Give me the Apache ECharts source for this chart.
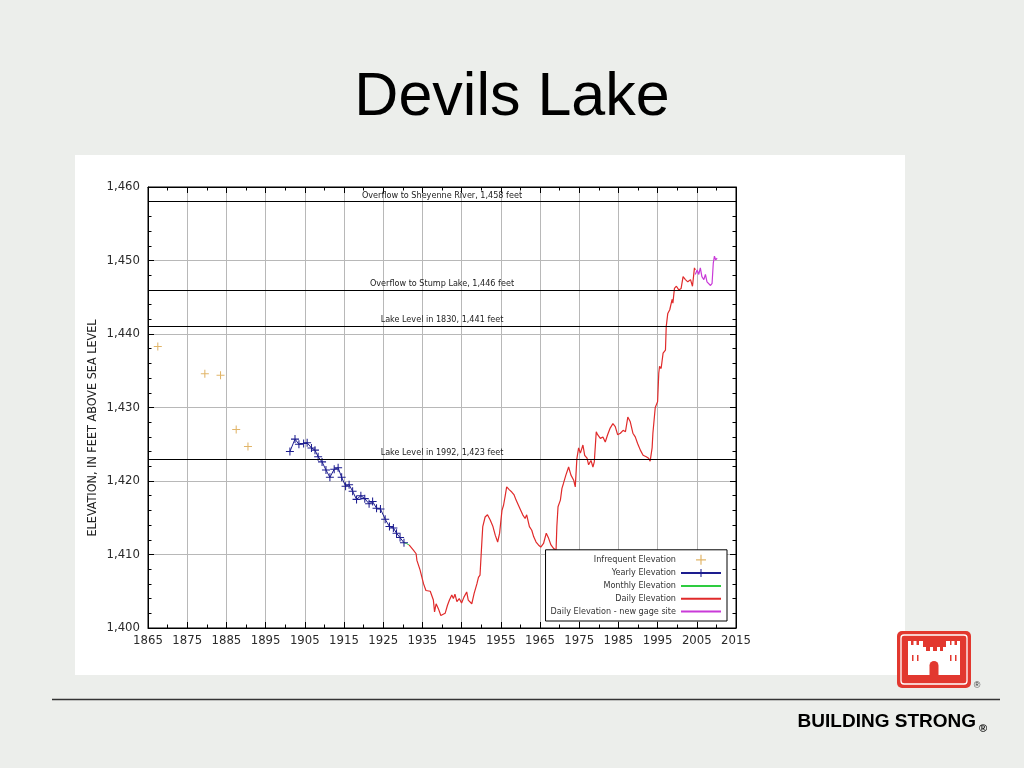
<!DOCTYPE html>
<html><head><meta charset="utf-8">
<script src="https://cdn.jsdelivr.net/npm/echarts@6.0.0/dist/echarts.min.js"></script>
<style>html,body{margin:0;padding:0;background:#eceeeb}#main{width:1024px;height:768px}</style>
</head><body><div id="main"></div>
<script>
// ---- data ----
const infreqYears = [1867.5, 1879.5, 1883.5, 1887.5, 1890.5];
const infreqElev  = [1438.3, 1434.6, 1434.4, 1427.0, 1424.7];

const yearlyYears = [1901.2,1902.5,1903.5,1904.7,1905.6,1906.7,1907.6,1908.4,1909.4,1910.4,1911.4,1912.5,1913.5,1914.4,1915.4,1916.3,1917.2,1918.2,1919.3,1920.3,1921.4,1922.3,1923.3,1924.3,1925.5,1926.6,1927.6,1928.4,1929.3,1930.3];
const yearlyElev  = [1424.0,1425.7,1425.0,1425.1,1425.2,1424.5,1424.2,1423.3,1422.6,1421.5,1420.5,1421.6,1421.8,1420.5,1419.3,1419.5,1418.6,1417.5,1418.0,1417.6,1416.9,1417.2,1416.3,1416.2,1414.8,1413.8,1413.6,1412.9,1412.3,1411.6];

const monthlyYears = [1930.3, 1930.9, 1931.6];
const monthlyElev  = [1411.6, 1411.5, 1411.3];

const dailyYears = [1931.6,1932.0,1932.7,1933.4,1933.6,1934.4,1935.3,1935.9,1937.0,1937.4,1937.8,1938.1,1938.5,1939.1,1939.7,1940.2,1940.8,1941.4,1941.9,1942.5,1942.9,1943.3,1943.8,1944.4,1945.0,1945.6,1946.3,1946.7,1947.6,1948.2,1948.9,1949.3,1949.7,1950.2,1950.4,1951.0,1951.6,1952.3,1953.0,1953.6,1954.2,1954.7,1955.3,1955.7,1956.1,1956.5,1957.2,1957.8,1958.4,1958.9,1959.5,1960.1,1960.6,1961.2,1961.6,1962.3,1962.9,1963.4,1964.0,1964.6,1965.2,1965.9,1966.6,1967.2,1967.8,1968.5,1969.1,1969.3,1969.6,1970.2,1970.6,1971.0,1971.6,1972.3,1972.9,1973.6,1974.0,1974.4,1974.85,1975.3,1975.95,1976.4,1977.0,1977.4,1978.0,1978.5,1978.85,1979.35,1979.7,1980.4,1981.05,1981.65,1982.25,1982.9,1983.6,1984.2,1984.8,1985.5,1986.2,1986.8,1987.4,1988.0,1988.7,1989.3,1989.9,1990.6,1991.3,1992.1,1992.7,1993.1,1993.6,1993.8,1994.4,1995.0,1995.3,1995.5,1995.9,1996.4,1997.0,1997.2,1997.6,1998.1,1998.7,1998.9,1999.3,1999.8,2000.4,2001.0,2001.5,2002.1,2002.7,2003.4,2003.9,2004.4,2004.6];
const dailyElev  = [1411.3,1411.4,1410.6,1410.1,1409.2,1407.9,1406.0,1405.1,1405.0,1404.9,1403.8,1402.2,1403.3,1402.6,1401.7,1401.5,1402.0,1403.1,1403.8,1404.5,1404.0,1404.6,1403.6,1404.0,1403.4,1404.2,1404.9,1403.8,1403.3,1404.7,1406.0,1406.9,1407.2,1412.0,1413.8,1415.1,1415.4,1414.7,1413.8,1412.6,1411.7,1412.9,1416.0,1416.7,1417.9,1419.2,1418.8,1418.5,1418.1,1417.4,1416.7,1416.0,1415.4,1414.9,1415.4,1413.8,1413.3,1412.4,1411.7,1411.3,1411.0,1411.5,1412.9,1412.2,1411.3,1410.8,1410.6,1413.8,1416.5,1417.4,1419.0,1419.7,1420.8,1421.9,1420.8,1420.1,1419.2,1423.0,1424.5,1423.8,1424.9,1423.5,1423.1,1422.2,1422.8,1421.9,1422.6,1426.7,1426.3,1425.8,1426.0,1425.3,1426.3,1427.2,1427.8,1427.4,1426.3,1426.5,1426.9,1426.7,1428.7,1428.1,1426.5,1426.0,1425.1,1424.2,1423.5,1423.3,1423.1,1422.7,1424.5,1426.5,1430.0,1430.8,1434.7,1435.6,1435.3,1437.4,1437.8,1441.0,1442.8,1443.3,1444.7,1444.2,1446.2,1446.5,1446.0,1446.2,1447.8,1447.4,1447.1,1447.4,1446.5,1449.0,1448.7];

const gageYears = [2004.6,2005.1,2005.5,2005.9,2006.3,2006.8,2007.2,2007.6,2008.0,2008.5,2008.9,2009.2,2009.5,2009.8,2010.2];
const gageElev  = [1448.1,1448.7,1448.1,1449.0,1447.8,1447.4,1448.1,1447.1,1446.9,1446.6,1446.9,1449.6,1450.6,1450.1,1450.3];

const refLevels = [1458, 1446, 1441, 1423];
const refLabels = ['Overflow to Sheyenne River, 1,458 feet', 'Overflow to Stump Lake, 1,446 feet', 'Lake Level in 1830, 1,441 feet', 'Lake Level in 1992, 1,423 feet'];

const seriesNames = ['Infrequent Elevation', 'Yearly Elevation', 'Monthly Elevation', 'Daily Elevation', 'Daily Elevation - new gage site'];

// ---- helpers ----
const zip = (a, b) => a.map((v, i) => [v, b[i]]);
const NARROW = "'DejaVu Sans Condensed','Liberation Sans',sans-serif";
const plusPath = 'path://M0,4.35h10v1.3h-10z M4.35,0h1.3v10h-1.3z';
const plusLegend = 'path://M0,0h0.01v0.01h-0.01z M15,4.4h10v1.2h-10z M19.4,0h1.2v10h-1.2z M39.99,9.99h0.01v0.01h-0.01z';
const commas = v => String(v).replace(/(\d)(\d{3})$/, '$1,$2');

const axisCommon = {
  type: 'value',
  axisLine: { show: true, onZero: false, lineStyle: { color: '#000', width: 1 } },
  axisTick: { show: true, inside: true, length: 6, lineStyle: { color: '#000' } },
  minorTick: { show: true, length: 3.5, lineStyle: { color: '#000' } },
};

const chart = echarts.init(document.getElementById('main'), null, { renderer: 'canvas' });
const castle = [
  [0,0,3,5],[5.5,0,3,5],[11,0,4,5],[0,4,15,30],
  [38,0,4,5],[43.5,0,3,5],[49,0,3,5],[38,4,14,30],
  [15,6,3,5],[22,6,3,5],[29,6,3,5],[35,6,3,5],[15,10,23,24]
];
const graphics = [
  { type: 'rect', z: -100, shape: { x: 0, y: 0, width: 1024, height: 768 }, style: { fill: '#eceeeb' } },
  { type: 'rect', z: -90, shape: { x: 75, y: 155, width: 830, height: 520 }, style: { fill: '#ffffff' } },
  { type: 'text', x: 512, y: 98, style: { text: 'Devils Lake', font: "61px 'Liberation Sans', Arial, sans-serif", fill: '#000', align: 'center', verticalAlign: 'middle' } },
  { type: 'text', x: 93, y: 428, rotation: Math.PI / 2, style: { text: 'ELEVATION, IN FEET ABOVE SEA LEVEL', font: "12.5px " + NARROW, fill: '#222', align: 'center', verticalAlign: 'middle' } },
  { type: 'line', shape: { x1: 52, y1: 699.5, x2: 1000, y2: 699.5 }, style: { stroke: '#333', lineWidth: 1.5 } },
  { type: 'text', x: 976, y: 722, style: { text: 'BUILDING STRONG', font: "bold 19px 'Liberation Sans', Arial, sans-serif", fill: '#000', align: 'right', verticalAlign: 'middle' } },
  { type: 'text', x: 979, y: 729, style: { text: '®', font: "bold 11px 'Liberation Sans', Arial, sans-serif", fill: '#000', align: 'left', verticalAlign: 'middle' } },
  { type: 'rect', shape: { x: 897, y: 631, width: 74, height: 57, r: 5 }, style: { fill: '#e2382f' } },
  { type: 'rect', shape: { x: 901, y: 635, width: 66, height: 49, r: 3 }, style: { fill: 'none', stroke: '#fff', lineWidth: 1.3 } },
  { type: 'group', x: 908, y: 641, children: castle.map(r => ({ type: 'rect', shape: { x: r[0], y: r[1], width: r[2], height: r[3] }, style: { fill: '#fff' } })) },
  { type: 'rect', shape: { x: 929.5, y: 661, width: 9, height: 14, r: [4.5, 4.5, 0, 0] }, style: { fill: '#e2382f' } },
  { type: 'rect', shape: { x: 912, y: 655, width: 1.5, height: 6 }, style: { fill: '#e2382f' } },
  { type: 'rect', shape: { x: 917, y: 655, width: 1.5, height: 6 }, style: { fill: '#e2382f' } },
  { type: 'rect', shape: { x: 950, y: 655, width: 1.5, height: 6 }, style: { fill: '#e2382f' } },
  { type: 'rect', shape: { x: 955, y: 655, width: 1.5, height: 6 }, style: { fill: '#e2382f' } },
  { type: 'text', x: 977, y: 686, style: { text: '®', font: "9px 'Liberation Sans', Arial, sans-serif", fill: '#333', align: 'center', verticalAlign: 'middle' } }
];

const hiddenSym = { opacity: 0, borderWidth: 0 };
const option = {
  animation: false,
  backgroundColor: 'transparent',
  graphic: { elements: graphics },
  grid: { left: 148, right: 288, top: 187, bottom: 140, show: true, borderColor: '#000', borderWidth: 1, backgroundColor: '#fff' },
  xAxis: [
    Object.assign({}, axisCommon, {
      position: 'bottom', min: 1865, max: 2015, interval: 10,
      minorTick: Object.assign({}, axisCommon.minorTick, { splitNumber: 2 }),
      axisLabel: { color: '#2a2a2a', fontSize: 13, fontFamily: NARROW, margin: 6, formatter: v => String(v) },
      splitLine: { show: true, lineStyle: { color: '#b8b8b8', width: 1 } }
    }),
    Object.assign({}, axisCommon, {
      position: 'top', min: 1865, max: 2015, interval: 10,
      minorTick: Object.assign({}, axisCommon.minorTick, { splitNumber: 2 }),
      axisLabel: { show: false }, splitLine: { show: false }
    })
  ],
  yAxis: [
    Object.assign({}, axisCommon, {
      position: 'left', min: 1400, max: 1460, interval: 10,
      minorTick: Object.assign({}, axisCommon.minorTick, { splitNumber: 5 }),
      axisLabel: { color: '#2a2a2a', fontSize: 13, fontFamily: NARROW, margin: 8, formatter: commas },
      splitLine: { show: true, lineStyle: { color: '#b8b8b8', width: 1 } }
    }),
    Object.assign({}, axisCommon, {
      position: 'right', min: 1400, max: 1460, interval: 10,
      minorTick: Object.assign({}, axisCommon.minorTick, { splitNumber: 5 }),
      axisLabel: { show: false }, splitLine: { show: false }
    })
  ],
  legend: {
    data: [
      { name: seriesNames[0], icon: plusLegend },
      seriesNames[1],
      { name: seriesNames[2], itemStyle: hiddenSym },
      { name: seriesNames[3], itemStyle: hiddenSym },
      { name: seriesNames[4], itemStyle: hiddenSym }
    ],
    orient: 'vertical', align: 'right', right: 297, bottom: 147,
    backgroundColor: '#fff', borderColor: '#000', borderWidth: 1, borderRadius: 0,
    padding: [5, 5, 5, 5], itemGap: 3.8, itemWidth: 40, itemHeight: 10,
    textStyle: { color: '#333', fontSize: 9, fontFamily: NARROW },
    selectedMode: false
  },
  series: [
    { name: 'refs', type: 'line', data: [], silent: true,
      markLine: { symbol: 'none', silent: true, animation: false,
        lineStyle: { color: '#000', width: 1, type: 'solid' },
        emphasis: { disabled: true },
        label: { position: 'insideMiddleTop', formatter: '{b}', color: '#222', fontSize: 9, fontFamily: NARROW, distance: 2 },
        data: refLevels.map((v, i) => ({ yAxis: v, name: refLabels[i] })) } },
    { name: seriesNames[0], type: 'scatter', data: zip(infreqYears, infreqElev), symbol: plusPath, symbolSize: 8, itemStyle: { color: '#d9a244' }, silent: true },
    { name: seriesNames[1], type: 'line', data: zip(yearlyYears, yearlyElev), symbol: plusPath, symbolSize: 8, showAllSymbol: true,
      itemStyle: { color: '#1d1d8f' }, lineStyle: { color: '#1d1d8f', width: 1 }, silent: true },
    { name: seriesNames[2], type: 'line', data: zip(monthlyYears, monthlyElev), symbol: 'none', itemStyle: { color: '#2ecc40' }, lineStyle: { color: '#2ecc40', width: 1 }, silent: true },
    { name: seriesNames[3], type: 'line', data: zip(dailyYears, dailyElev), symbol: 'none', itemStyle: { color: '#e02a2a' }, lineStyle: { color: '#e02a2a', width: 1.2 }, silent: true },
    { name: seriesNames[4], type: 'line', data: zip(gageYears, gageElev), symbol: 'none', itemStyle: { color: '#c93ad8' }, lineStyle: { color: '#c93ad8', width: 1.2 }, silent: true }
  ]
};
chart.setOption(option);
</script></body></html>
